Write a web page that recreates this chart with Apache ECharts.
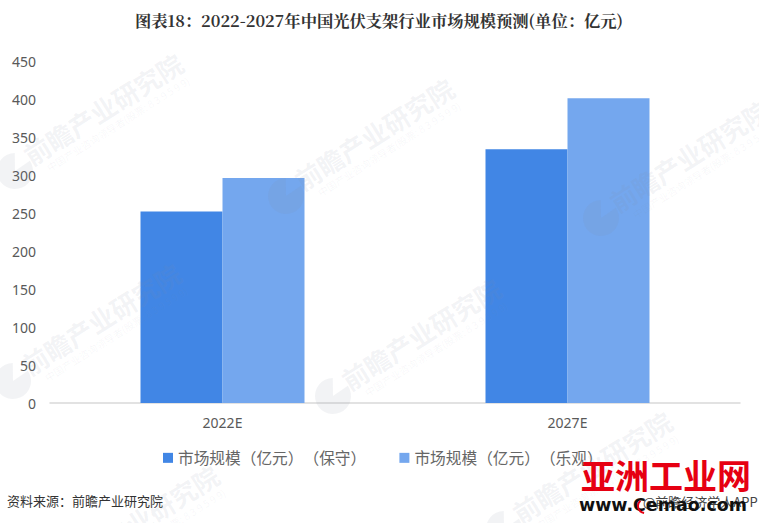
<!DOCTYPE html>
<html>
<head>
<meta charset="utf-8">
<style>
html,body{margin:0;padding:0;background:#fff}
#main{width:759px;height:523px}
#main text{text-spacing-trim:space-all}
</style>
<script src="https://cdn.jsdelivr.net/npm/echarts@6/dist/echarts.min.js"></script>
</head>
<body>
<div id="main"></div>
<script>
var categories = ['2022E', '2027E'];
var conservative = [252, 334];
var optimistic = [296, 401];
var yTicks = [0, 450, 50];
var cjk = '"Noto Sans CJK SC", sans-serif';

// 水印：第一个字的中心位置
var marks = [[37, 150], [308, 175], [623, 197], [35, 360], [355, 375], [526, 508], [73, 562]];
var markColor = 'rgba(130,140,160,0.10)';
var graphics = [];
marks.forEach(function (m) {
	graphics.push({
		type: 'text', x: m[0] - 18, y: m[1] - 4, rotation: 0.563, z: 5, silent: true,
		style: { text: '前瞻产业研究院', font: 'bold 26px ' + cjk, fill: markColor }
	});
	graphics.push({
		type: 'text', x: m[0] + 8, y: m[1] + 14, rotation: 0.563, z: 5, silent: true,
		style: { text: '中国产业咨询领导者(股票: 8 3 9 5 9 9)', font: '10px ' + cjk, fill: 'rgba(130,140,160,0.07)' }
	});
	graphics.push({
		type: 'sector', z: 5, silent: true,
		shape: { cx: m[0] - 22, cy: m[1] + 21, r: 18, r0: 0, startAngle: -0.6, endAngle: 4.7 },
		style: { fill: markColor }
	});
});
graphics.push(
	{ type: 'text', x: 135, y: 12, z: 10, style: { text: '图表18：2022-2027年中国光伏支架行业市场规模预测(单位：亿元)', font: 'bold 16.3px "Noto Serif CJK SC", "Noto Sans CJK SC", serif', fill: '#333' } },
	{ type: 'text', x: 7, y: 494, z: 10, style: { text: '资料来源：前瞻产业研究院', font: '13px ' + cjk, fill: '#333' } },
	{ type: 'text', x: 643, y: 495, z: 11, style: { text: '@前瞻经济学人APP', font: '13px ' + cjk, fill: '#444' } },
	{ type: 'text', x: 581, y: 457, z: 12, style: { text: '亚洲工业网', font: 'bold 34px ' + cjk, fill: '#e60012' } },
	{ type: 'text', x: 579, y: 496, z: 12, style: { text: 'www.Cemao.com', font: 'bold 17.5px "DejaVu Sans", sans-serif', fill: '#111' } },
	{ type: 'arc', z: 13, shape: { cx: 645, cy: 506, r: 7, startAngle: 1.7, endAngle: 4 }, style: { stroke: '#e60012', lineWidth: 2, fill: 'none' } }
);

var myChart = echarts.init(document.getElementById('main'), null, { renderer: 'svg' });
var option = {
	animation: false,
	color: ['#4186E5', '#74A7EE'],
	legend: {
		data: ['市场规模（亿元）（保守）', '市场规模（亿元）（乐观）'],
		left: 158,
		top: 445,
		itemWidth: 10,
		itemHeight: 10,
		itemGap: 41,
		icon: 'rect',
		textStyle: { fontFamily: cjk, fontSize: 15.7, color: '#666' }
	},
	grid: { left: 50, right: 19, top: 61, bottom: 120 },
	xAxis: {
		type: 'category',
		data: categories,
		axisTick: { show: false },
		axisLine: { lineStyle: { color: '#D9D9D9', width: 1.5 } },
		axisLabel: { color: '#595959', fontSize: 14, margin: 12, fontFamily: '"Noto Sans", sans-serif' }
	},
	yAxis: {
		type: 'value',
		min: yTicks[0],
		max: yTicks[1],
		interval: yTicks[2],
		axisLine: { show: false },
		axisTick: { show: false },
		splitLine: { show: false },
		axisLabel: { color: '#595959', fontSize: 14, margin: 14, padding: [0, 0, 2, 0], fontFamily: '"Noto Sans", sans-serif' }
	},
	series: [
		{ name: '市场规模（亿元）（保守）', type: 'bar', data: conservative, barWidth: 82, barGap: 0 },
		{ name: '市场规模（亿元）（乐观）', type: 'bar', data: optimistic, barWidth: 82 }
	],
	graphic: graphics
};
myChart.setOption(option);
</script>
</body>
</html>
